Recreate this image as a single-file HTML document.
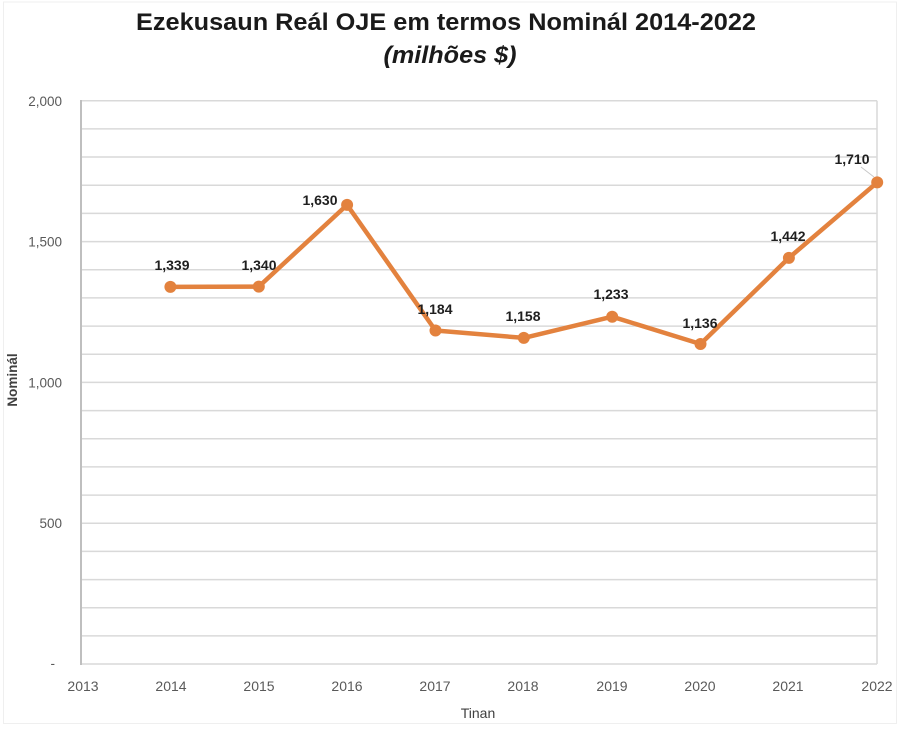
<!DOCTYPE html>
<html>
<head>
<meta charset="utf-8">
<style>
html,body{margin:0;padding:0;background:#fff;}
svg{display:block;}
</style>
</head>
<body>
<svg width="900" height="730" viewBox="0 0 900 730" xmlns="http://www.w3.org/2000/svg" font-family="'Liberation Sans', Arial, sans-serif">
  <rect x="0" y="0" width="900" height="730" fill="#ffffff"/>
  <rect x="3.5" y="2" width="893" height="721.5" fill="none" stroke="#efefef" stroke-width="1"/>

  <!-- Title -->
  <text x="446" y="30" text-anchor="middle" font-size="24" font-weight="bold" fill="#1a1a1a" textLength="620" lengthAdjust="spacingAndGlyphs">Ezekusaun Reál OJE em termos Nominál 2014-2022</text>
  <text x="450" y="63" text-anchor="middle" font-size="24" font-weight="bold" font-style="italic" fill="#1a1a1a" textLength="133" lengthAdjust="spacingAndGlyphs">(milhões $)</text>

  <!-- Gridlines -->
  <g stroke="#d9d9d9" stroke-width="1.5">
    <line x1="81" y1="100.7" x2="877" y2="100.7"/>
    <line x1="81" y1="128.9" x2="877" y2="128.9"/>
    <line x1="81" y1="157.0" x2="877" y2="157.0"/>
    <line x1="81" y1="185.2" x2="877" y2="185.2"/>
    <line x1="81" y1="213.4" x2="877" y2="213.4"/>
    <line x1="81" y1="241.6" x2="877" y2="241.6"/>
    <line x1="81" y1="269.7" x2="877" y2="269.7"/>
    <line x1="81" y1="297.9" x2="877" y2="297.9"/>
    <line x1="81" y1="326.1" x2="877" y2="326.1"/>
    <line x1="81" y1="354.2" x2="877" y2="354.2"/>
    <line x1="81" y1="382.4" x2="877" y2="382.4"/>
    <line x1="81" y1="410.6" x2="877" y2="410.6"/>
    <line x1="81" y1="438.7" x2="877" y2="438.7"/>
    <line x1="81" y1="466.9" x2="877" y2="466.9"/>
    <line x1="81" y1="495.1" x2="877" y2="495.1"/>
    <line x1="81" y1="523.3" x2="877" y2="523.3"/>
    <line x1="81" y1="551.4" x2="877" y2="551.4"/>
    <line x1="81" y1="579.6" x2="877" y2="579.6"/>
    <line x1="81" y1="607.8" x2="877" y2="607.8"/>
    <line x1="81" y1="635.9" x2="877" y2="635.9"/>
    <line x1="81" y1="664" x2="877" y2="664"/>
    <line x1="877" y1="100.7" x2="877" y2="664"/>
  </g>
  <line x1="81" y1="100" x2="81" y2="665" stroke="#bfbfbf" stroke-width="2"/>

  <!-- Y tick labels -->
  <g font-size="13.5" fill="#595959" text-anchor="end">
    <text x="62" y="106">2,000</text>
    <text x="62" y="246.5">1,500</text>
    <text x="62" y="387.5">1,000</text>
    <text x="62" y="528">500</text>
    <text x="55" y="668">-</text>
  </g>

  <!-- X tick labels -->
  <g font-size="14" fill="#595959" text-anchor="middle">
    <text x="83" y="691">2013</text>
    <text x="171" y="691">2014</text>
    <text x="259" y="691">2015</text>
    <text x="347" y="691">2016</text>
    <text x="435" y="691">2017</text>
    <text x="523" y="691">2018</text>
    <text x="612" y="691">2019</text>
    <text x="700" y="691">2020</text>
    <text x="788" y="691">2021</text>
    <text x="877" y="691">2022</text>
  </g>

  <!-- Axis titles -->
  <text x="478" y="718" text-anchor="middle" font-size="14" fill="#404040">Tinan</text>
  <text transform="translate(17,380) rotate(-90)" text-anchor="middle" font-size="13.5" font-weight="bold" fill="#404040">Nominál</text>

  <!-- Series -->
  <polyline fill="none" stroke="#E3823E" stroke-width="4.5" stroke-linejoin="round" stroke-linecap="round"
    points="170.4,286.9 258.8,286.6 347.1,204.9 435.5,330.5 523.8,337.9 612.2,316.7 700.5,344.0 788.9,257.9 877.2,182.4"/>
  <g fill="#E3823E">
    <circle cx="170.4" cy="286.9" r="6"/>
    <circle cx="258.8" cy="286.6" r="6"/>
    <circle cx="347.1" cy="204.9" r="6"/>
    <circle cx="435.5" cy="330.5" r="6"/>
    <circle cx="523.8" cy="337.9" r="6"/>
    <circle cx="612.2" cy="316.7" r="6"/>
    <circle cx="700.5" cy="344.0" r="6"/>
    <circle cx="788.9" cy="257.9" r="6"/>
    <circle cx="877.2" cy="182.4" r="6"/>
  </g>

  <!-- leader line for 1,710 -->
  <line x1="861" y1="167" x2="874" y2="177" stroke="#c8c8c8" stroke-width="1"/>

  <!-- Data labels -->
  <g font-size="14" font-weight="bold" fill="#1f1f1f" text-anchor="middle">
    <text x="172" y="270">1,339</text>
    <text x="259" y="270">1,340</text>
    <text x="320" y="205">1,630</text>
    <text x="435" y="314">1,184</text>
    <text x="523" y="321">1,158</text>
    <text x="611" y="299">1,233</text>
    <text x="700" y="328">1,136</text>
    <text x="788" y="241">1,442</text>
    <text x="852" y="164">1,710</text>
  </g>
</svg>
</body>
</html>
